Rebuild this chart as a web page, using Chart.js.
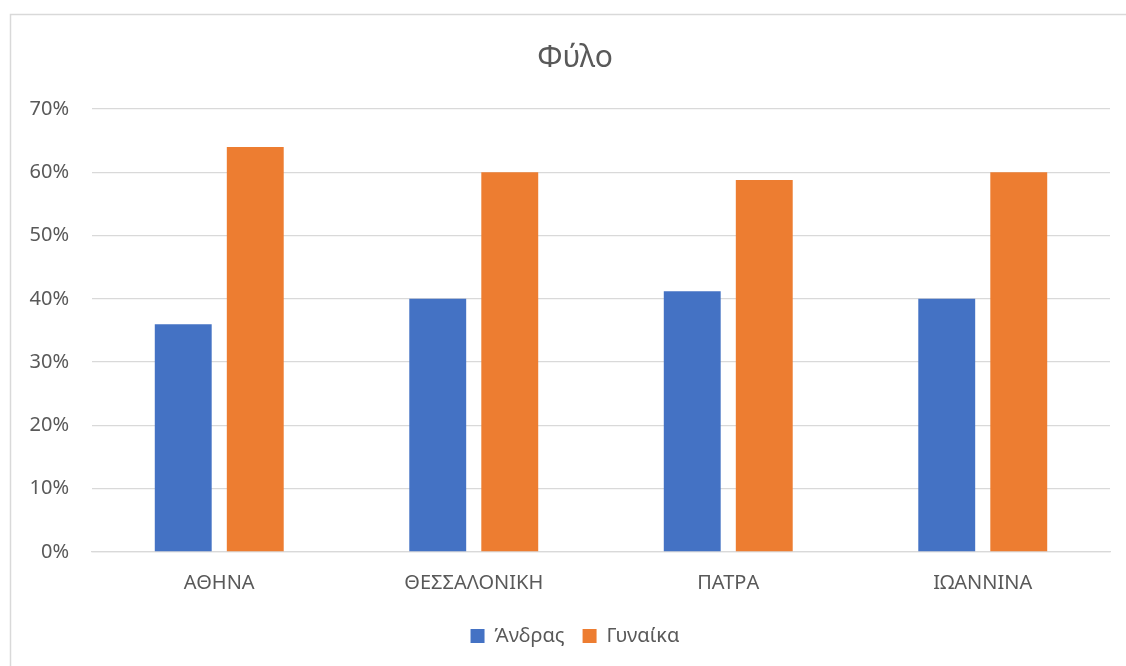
<!DOCTYPE html>
<html>
<head>
<meta charset="utf-8">
<script src="https://cdn.jsdelivr.net/npm/chart.js@4/dist/chart.umd.min.js"></script>
<style>
  html, body { margin: 0; padding: 0; background: #ffffff; overflow: hidden; }
  #wrap { position: absolute; left: 0; top: 0; width: 1150px; height: 666px; }
</style>
</head>
<body>
<div id="wrap"><canvas id="c" width="1150" height="666"></canvas></div>
<script>
const categories = ["ΑΘΗΝΑ", "ΘΕΣΣΑΛΟΝΙΚΗ", "ΠΑΤΡΑ", "ΙΩΑΝΝΙΝΑ"];
const seriesNames = ["Άνδρας", "Γυναίκα"];
const andras = [36, 40, 41.2, 40];
const gynaika = [64, 60, 58.8, 60];
const yTicks = [0, 10, 20, 30, 40, 50, 60, 70];
const titleText = "Φύλο";

const FONT = "'Noto Sans', 'Open Sans', sans-serif";
const TEXT = "#595959";
const GRID = "#d9d9d9";

const borderPlugin = {
  id: 'outerBorder',
  beforeDraw(chart) {
    const ctx = chart.ctx;
    ctx.save();
    ctx.strokeStyle = "#d9d9d9";
    ctx.lineWidth = 1.5;
    ctx.strokeRect(10.5, 14.5, 1200, 800);
    ctx.restore();
  }
};

new Chart(document.getElementById('c'), {
  type: 'bar',
  data: {
    labels: categories,
    datasets: [
      { label: seriesNames[0], data: andras, backgroundColor: "#4472C4", borderWidth: 0 },
      { label: seriesNames[1], data: gynaika, backgroundColor: "#ED7D31", borderWidth: 0 }
    ]
  },
  options: {
    responsive: false,
    animation: false,
    devicePixelRatio: 1,
    layout: { padding: { left: 0, right: 0, top: 0, bottom: 10 } },
    datasets: { bar: { categoryPercentage: 0.566, barPercentage: 0.79 } },
    plugins: {
      title: {
        display: true,
        text: titleText,
        color: TEXT,
        font: { family: FONT, size: 30, weight: 'normal' },
        padding: { top: 40, bottom: 33 }
      },
      legend: {
        display: true,
        position: 'bottom',
        labels: {
          color: TEXT,
          font: { family: FONT, size: 20 },
          boxWidth: 14,
          boxHeight: 14,
          padding: 18
        }
      },
      tooltip: { enabled: false }
    },
    scales: {
      x: {
        grid: { display: false, drawTicks: false },
        border: { display: true, color: GRID, width: 1.3 },
        ticks: { color: TEXT, font: { family: FONT, size: 20 }, padding: 19 },
        afterFit(scale) { scale.height = 56; }
      },
      y: {
        min: 0,
        max: 70,
        grid: { color: GRID, lineWidth: 1.3, drawTicks: false },
        border: { display: false },
        ticks: {
          stepSize: 10,
          color: TEXT,
          font: { family: FONT, size: 20 },
          padding: 23,
          callback: (v) => yTicks.includes(v) ? v + "%" : ""
        },
        afterFit(scale) { scale.width = 92; }
      },
      ySpacer: {
        type: 'linear',
        position: 'right',
        min: 0,
        max: 70,
        grid: { display: false, drawTicks: false },
        border: { display: false },
        ticks: { display: false },
        afterFit(scale) { scale.width = 40; }
      }
    }
  },
  plugins: [borderPlugin]
});
</script>
</body>
</html>
